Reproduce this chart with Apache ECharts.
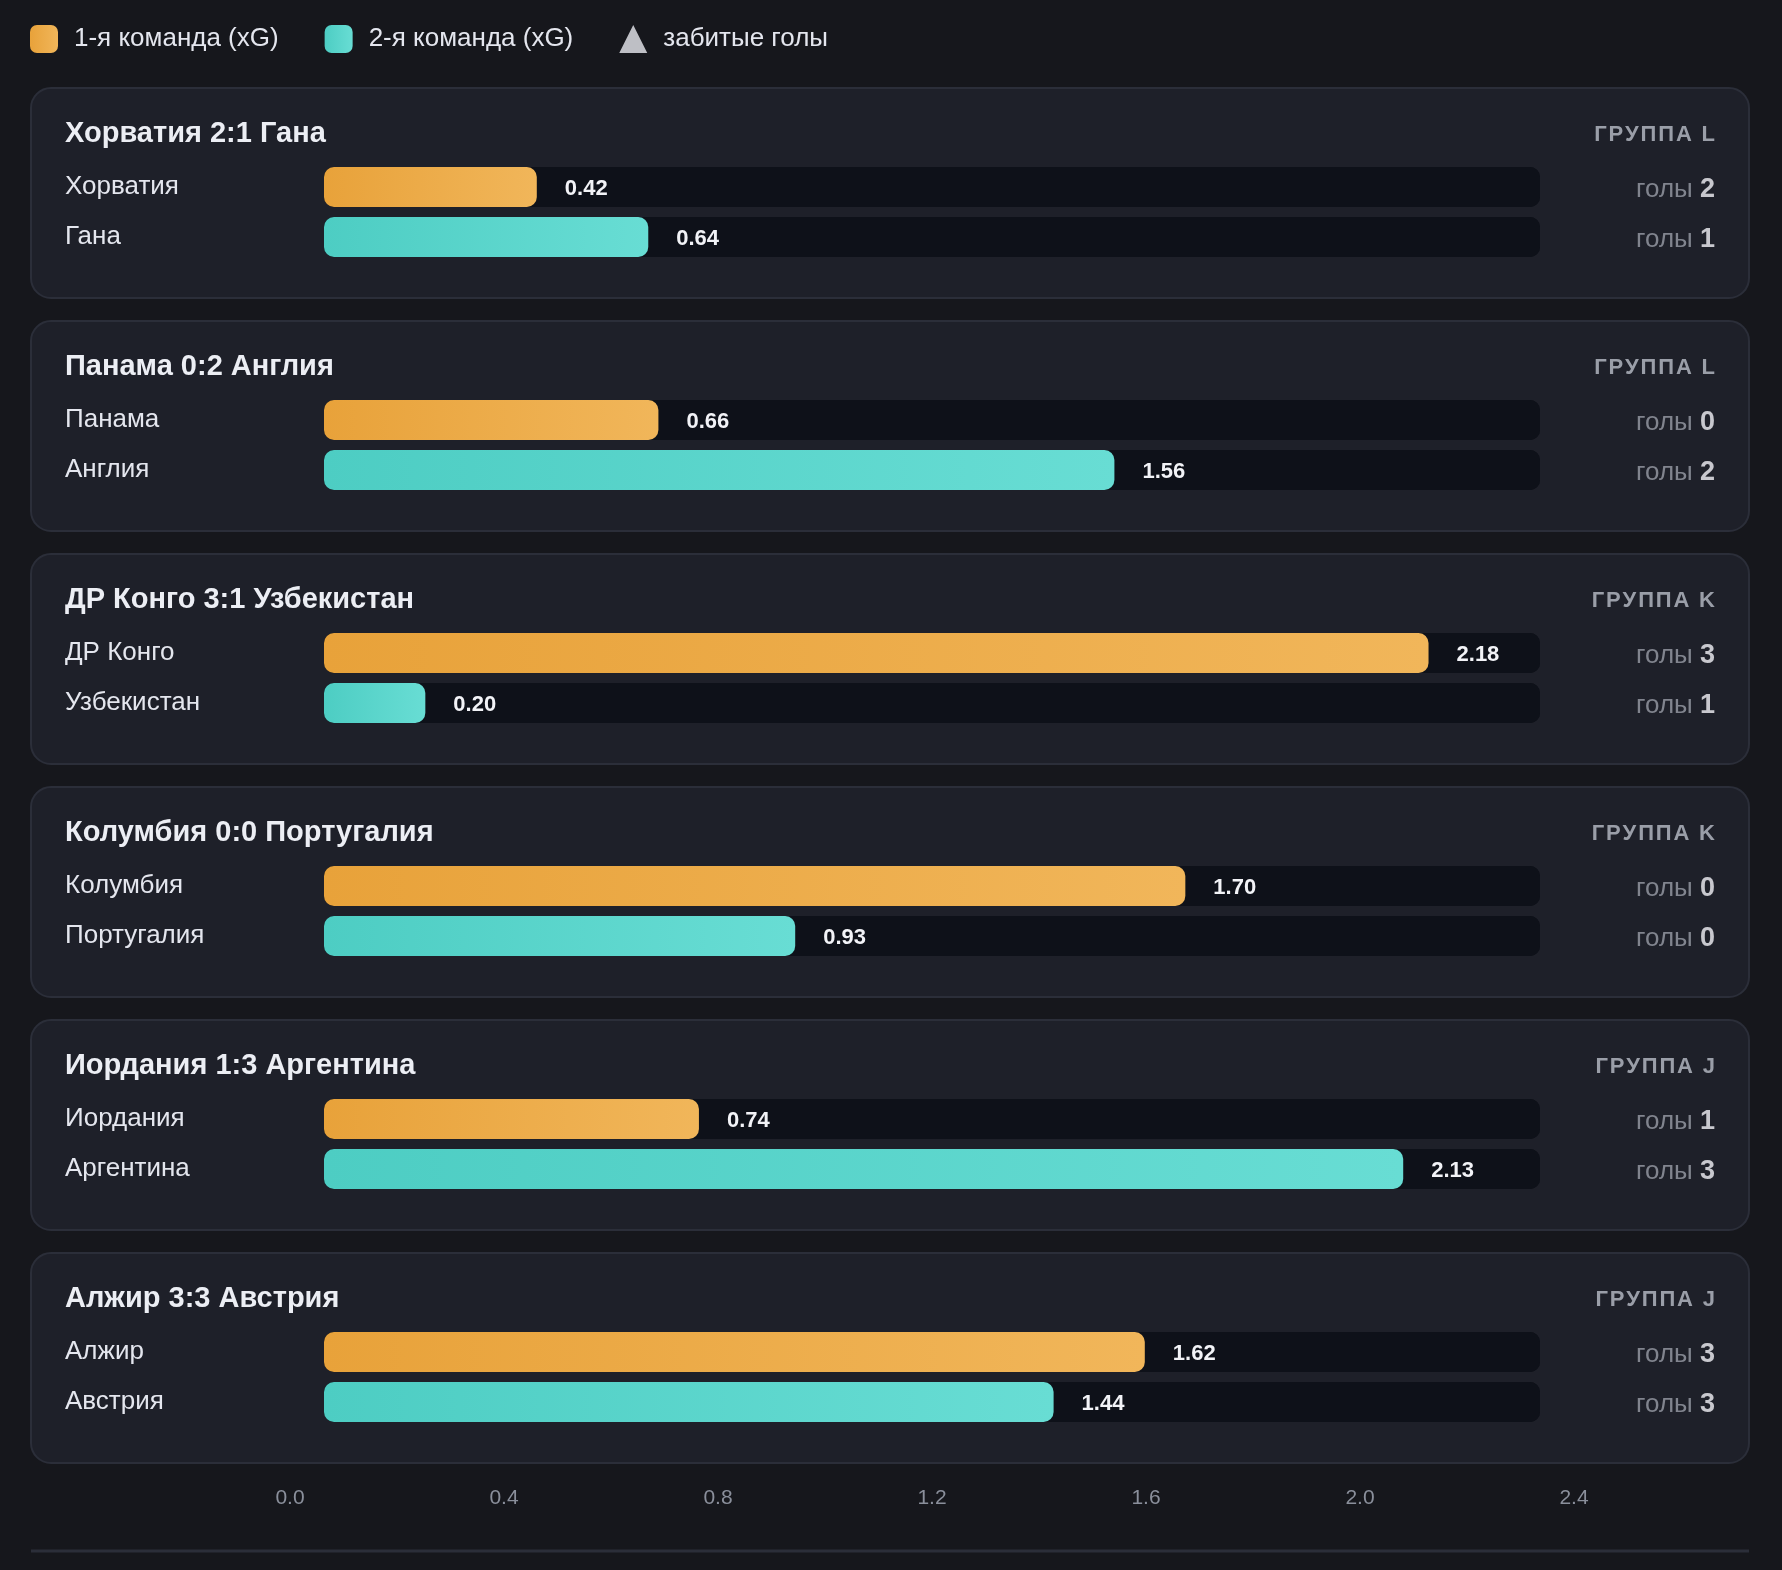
<!DOCTYPE html>
<html>
<head>
<meta charset="utf-8">
<script src="https://cdn.jsdelivr.net/npm/echarts@6/dist/echarts.min.js"></script>
<style>
  html, body { margin: 0; padding: 0; background: #16171c; }
  #chart { width: 1782px; height: 1570px; }
</style>
</head>
<body>
<div id="chart"></div>
<script>
// данные матчей
const team1 = ['Хорватия', 'Панама', 'ДР Конго', 'Колумбия', 'Иордания', 'Алжир'];
const team2 = ['Гана', 'Англия', 'Узбекистан', 'Португалия', 'Аргентина', 'Австрия'];
const xg1 = [0.42, 0.66, 2.18, 1.70, 0.74, 1.62];
const xg2 = [0.64, 1.56, 0.20, 0.93, 2.13, 1.44];
const goals1 = [2, 0, 3, 0, 1, 3];
const goals2 = [1, 2, 1, 0, 3, 3];
const groups = ['L', 'L', 'K', 'K', 'J', 'J'];
const xMax = 2.4;
const xStep = 0.4;

const FONT = '"Liberation Sans", Arial, sans-serif';
const CARD_TOP = 88;
const CARD_STEP = 233;

let chart = echarts.init(document.getElementById('chart'));

let orange = new echarts.graphic.LinearGradient(0, 0, 1, 0, [
  { offset: 0, color: '#e8a23a' },
  { offset: 1, color: '#f1b65a' },
]);
let teal = new echarts.graphic.LinearGradient(0, 0, 1, 0, [
  { offset: 0, color: '#4dcdc3' },
  { offset: 1, color: '#68ddd4' },
]);

let grids = [], xAxes = [], yAxes = [], series = [], titles = [], cards = [];

team1.forEach((t1, i) => {
  let top = CARD_TOP + CARD_STEP * i;
  let names = [t1, team2[i]];

  // карточка
  cards.push({
    type: 'rect',
    z: 0,
    shape: { x: 31, y: top, width: 1718, height: 210, r: 20 },
    style: { fill: '#1e2029', stroke: '#2b2e39', lineWidth: 2 },
  });

  titles.push({
    text: t1 + ' ' + goals1[i] + ':' + goals2[i] + ' ' + team2[i],
    left: 65,
    top: top + 31,
    padding: 0,
    textStyle: { color: '#eceef4', fontSize: 29, fontWeight: 'bold', fontFamily: FONT },
  });
  titles.push({
    // буквы чуть разрежены, как в оригинале
    text: ('ГРУППА ' + groups[i]).split('').join('\u200A'),
    right: 67,
    top: top + 36,
    padding: 0,
    textStyle: { color: '#9a9ea8', fontSize: 22, fontWeight: 'bold', fontFamily: FONT },
  });

  // сетка для xG
  grids.push({ left: 324, width: 1216, top: top + 74, height: 100, outerBoundsMode: 'none' });
  xAxes.push({ gridIndex: 2 * i, type: 'value', min: 0, max: xMax, show: false });
  yAxes.push({
    gridIndex: 2 * i,
    type: 'category',
    inverse: true,
    data: names,
    axisLine: { show: false },
    axisTick: { show: false },
    axisLabel: {
      margin: 259,
      align: 'left',
      padding: [3, 0, 0, 0],
      color: '#e4e6ee',
      fontSize: 26,
      fontFamily: FONT,
    },
  });

  // сетка для голов
  grids.push({ left: 1560, width: 155, top: top + 74, height: 100, outerBoundsMode: 'none' });
  xAxes.push({ gridIndex: 2 * i + 1, type: 'value', min: 0, max: 1, show: false });
  yAxes.push({ gridIndex: 2 * i + 1, type: 'category', inverse: true, data: names, show: false });

  let barLabel = {
    show: true,
    position: 'right',
    distance: 28,
    offset: [0, 2],
    formatter: p => Number(p.value).toFixed(2),
    color: '#f2f3f7',
    fontSize: 22,
    fontWeight: 'bold',
    fontFamily: FONT,
  };
  series.push({
    name: '1-я команда (xG)',
    type: 'bar',
    xAxisIndex: 2 * i,
    yAxisIndex: 2 * i,
    data: [xg1[i], '-'],
    barWidth: 40,
    barGap: '-100%',
    showBackground: true,
    backgroundStyle: { color: '#0e1119', borderRadius: 10 },
    itemStyle: { color: orange, borderRadius: 10 },
    label: barLabel,
    silent: true,
  });
  series.push({
    name: '2-я команда (xG)',
    type: 'bar',
    xAxisIndex: 2 * i,
    yAxisIndex: 2 * i,
    data: ['-', xg2[i]],
    barWidth: 40,
    barGap: '-100%',
    showBackground: true,
    backgroundStyle: { color: '#0e1119', borderRadius: 10 },
    itemStyle: { color: teal, borderRadius: 10 },
    label: barLabel,
    silent: true,
  });
  series.push({
    name: 'забитые голы',
    type: 'scatter',
    xAxisIndex: 2 * i + 1,
    yAxisIndex: 2 * i + 1,
    symbol: 'triangle',
    symbolSize: 0,
    data: [[1, 0, goals1[i]], [1, 1, goals2[i]]],
    itemStyle: { color: '#e9eaf0' },
    label: {
      show: true,
      position: 'left',
      distance: 0,
      offset: [0, 3],
      formatter: p => '{a|голы }{b|' + p.value[2] + '}',
      rich: {
        a: { color: '#9a9ea8', fontSize: 26, fontFamily: FONT },
        b: { color: '#f2f3f7', fontSize: 27, fontWeight: 'bold', fontFamily: FONT },
      },
    },
    silent: true,
  });
});

// нижняя ось
grids.push({ left: 290, width: 1284, top: 1470, height: 10, outerBoundsMode: 'none' });
xAxes.push({
  gridIndex: 12,
  type: 'value',
  min: 0,
  max: xMax,
  interval: xStep,
  axisLine: { show: false },
  axisTick: { show: false },
  splitLine: { show: false },
  axisLabel: {
    margin: 8,
    color: '#8a8f9b',
    fontSize: 21,
    fontFamily: FONT,
    showMinLabel: true,
    showMaxLabel: true,
    formatter: v => v.toFixed(1),
  },
});
yAxes.push({ gridIndex: 12, type: 'value', show: false });

cards.push({
  type: 'line',
  z: 0,
  shape: { x1: 31, y1: 1551, x2: 1749, y2: 1551 },
  style: { stroke: '#2b2e39', lineWidth: 3 },
});

let option = {
  backgroundColor: '#16171c',
  animation: false,
  title: titles,
  legend: {
    left: 30,
    top: 25,
    padding: 0,
    itemWidth: 28,
    itemHeight: 28,
    itemGap: 46,
    selectedMode: false,
    data: [
      { name: '1-я команда (xG)', icon: 'roundRect' },
      { name: '2-я команда (xG)', icon: 'roundRect' },
      { name: 'забитые голы', icon: 'triangle' },
    ],
    textStyle: { color: '#e4e6ee', fontSize: 26, fontFamily: FONT, padding: [0, 0, 0, 11] },
  },
  graphic: cards,
  grid: grids,
  xAxis: xAxes,
  yAxis: yAxes,
  series: series,
};
chart.setOption(option);
</script>
</body>
</html>
